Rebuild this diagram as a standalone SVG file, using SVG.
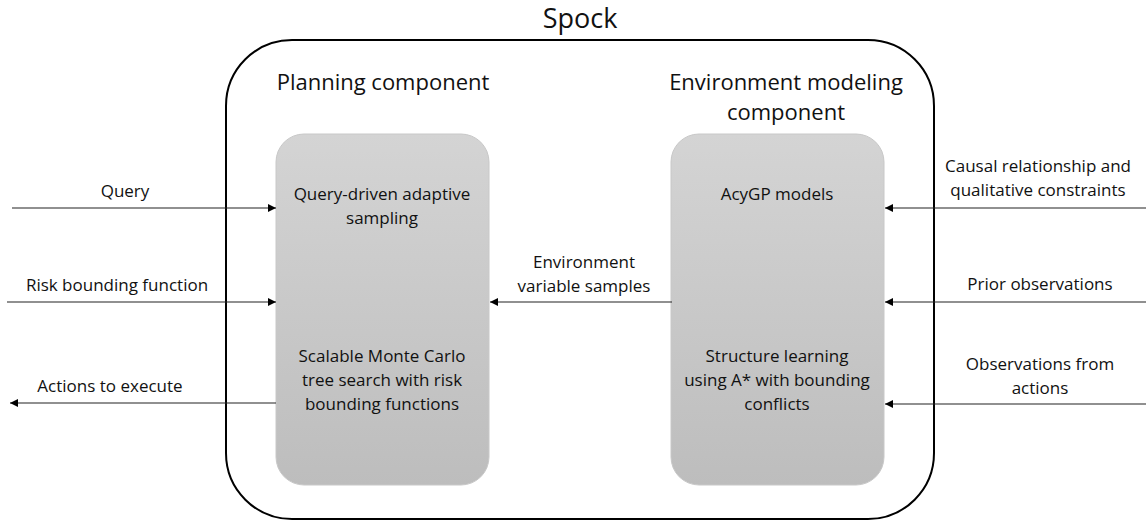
<svg xmlns="http://www.w3.org/2000/svg" width="1146" height="523" viewBox="0 0 1146 523">
<defs>
<linearGradient id="g" x1="0" y1="0" x2="0" y2="1">
<stop offset="0" stop-color="#d4d4d4"/>
<stop offset="1" stop-color="#bdbdbd"/>
</linearGradient>
<marker id="ah" markerWidth="8" markerHeight="8" refX="8" refY="4" orient="auto" markerUnits="userSpaceOnUse">
<path d="M0,0 L8,4 L0,8 Z" fill="#000"/>
</marker>
<style>
text{font-family:"Open Sans","Liberation Sans",sans-serif;fill:#111;text-anchor:middle}
.t{font-size:17px}
.h{font-size:22px}
.c{stroke:#222;stroke-width:1.2;fill:none;marker-end:url(#ah)}
.b{fill:url(#g);stroke:#c8c8c8;stroke-width:1}
</style>
</defs>
<rect width="1146" height="523" fill="#fff"/>
<g id="spock">
<rect x="226" y="40" width="708" height="479" rx="66" ry="66" fill="none" stroke="#000" stroke-width="2"/>
<text x="580" y="28" style="font-size:27px">Spock</text>
<text class="h" x="383" y="90">Planning component</text>
<text class="h" x="786" y="90">Environment modeling</text>
<text class="h" x="786" y="120">component</text>
</g>
<g id="planning">
<rect class="b" x="276" y="134" width="213" height="351" rx="28" ry="28"/>
<text class="t" x="382" y="200">Query-driven adaptive</text>
<text class="t" x="382" y="224">sampling</text>
<text class="t" x="382" y="362">Scalable Monte Carlo</text>
<text class="t" x="382" y="386">tree search with risk</text>
<text class="t" x="382" y="410">bounding functions</text>
</g>
<g id="envmodel">
<rect class="b" x="671" y="134" width="213" height="351" rx="28" ry="28"/>
<text class="t" x="777" y="200">AcyGP models</text>
<text class="t" x="777" y="362">Structure learning</text>
<text class="t" x="777" y="386">using A* with bounding</text>
<text class="t" x="777" y="410">conflicts</text>
</g>
<g id="connectors">
<path class="c" d="M12,208 H276"/>
<path class="c" d="M7,302 H276"/>
<path class="c" d="M276,403 H10"/>
<path class="c" d="M672,302 H490"/>
<path class="c" d="M1146,208 H885"/>
<path class="c" d="M1146,302 H885"/>
<path class="c" d="M1146,404 H885"/>
<text class="t" x="125" y="197">Query</text>
<text class="t" x="117" y="291">Risk bounding function</text>
<text class="t" x="110" y="392">Actions to execute</text>
<text class="t" x="584" y="268">Environment</text>
<text class="t" x="584" y="292">variable samples</text>
<text class="t" x="1038" y="172">Causal relationship and</text>
<text class="t" x="1038" y="196">qualitative constraints</text>
<text class="t" x="1040" y="290">Prior observations</text>
<text class="t" x="1040" y="370">Observations from</text>
<text class="t" x="1040" y="394">actions</text>
</g>
</svg>
